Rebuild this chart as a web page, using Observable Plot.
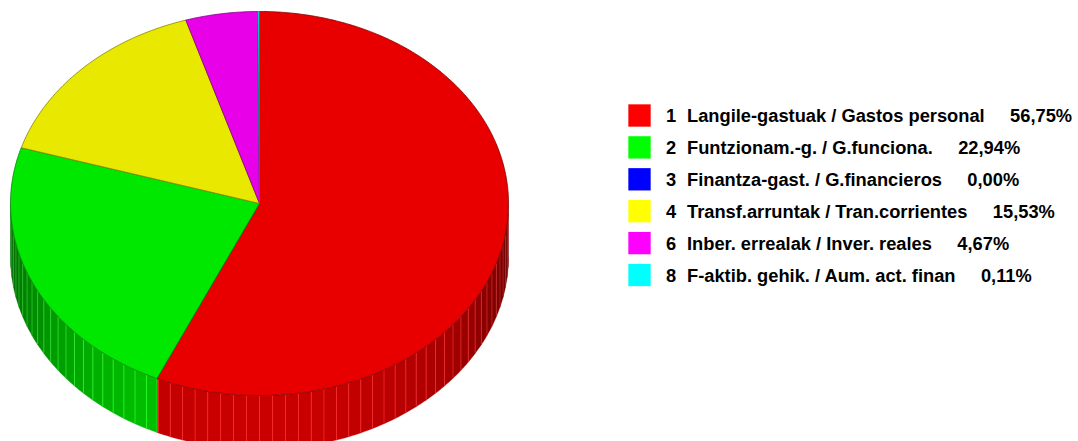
<!DOCTYPE html>
<html>
<head>
<meta charset="utf-8">
<script src="https://cdn.jsdelivr.net/npm/d3@7"></script>
<script src="https://cdn.jsdelivr.net/npm/@observablehq/plot@0.6"></script>
<style>
  html, body { margin: 0; padding: 0; background: #fff; }
  #chart { width: 1078px; height: 441px; overflow: hidden; }
</style>
</head>
<body>
<div id="chart"></div>
<script>
// ---- data ----
const codes = ["1", "2", "3", "4", "6", "8"];
const names = [
  "Langile-gastuak / Gastos personal",
  "Funtzionam.-g. / G.funciona.",
  "Finantza-gast. / G.financieros",
  "Transf.arruntak / Tran.corrientes",
  "Inber. errealak / Inver. reales",
  "F-aktib. gehik. / Aum. act. finan"
];
const shares = [56.75, 22.94, 0.00, 15.53, 4.67, 0.11];
const legendColors = ["#ff0000", "#00ff00", "#0000ff", "#ffff00", "#ff00ff", "#00ffff"];
const pieColors = ["#e80000", "#00e800", "#0000e8", "#e8e800", "#e800e8", "#00e8e8"];

// ---- layout (pixels) ----
const W = 1078, H = 441;
const cx = 259, cy = 203, rx = 249, ry = 192, depth = 54;
const stripDeg = 3;
const FONT = "Liberation Sans, Arial, sans-serif";
const FS = 18.3;

const total = d3.sum(shares);
const rad = d => d * Math.PI / 180;
const P = (a, dz = 0) => [cx + rx * Math.sin(rad(a)), cy - ry * Math.cos(rad(a)) + dz];

// slice angles (degrees, clockwise from 12 o'clock)
let acc = 0;
const slices = shares.map((v, i) => {
  const a0 = acc / total * 360;
  acc += v;
  const a1 = acc / total * 360;
  return {i, a0, a1};
});

// top polygons
const topPts = [];
slices.forEach(s => {
  if (s.a1 - s.a0 <= 0) return;
  const id = "top" + s.i;
  const fill = pieColors[s.i];
  const stroke = d3.color(fill).darker(1.6).formatHex();
  const pts = [[cx, cy]];
  const n = Math.max(2, Math.ceil((s.a1 - s.a0) / 0.5));
  for (let k = 0; k <= n; k++) pts.push(P(s.a0 + (s.a1 - s.a0) * k / n));
  pts.push([cx, cy]);
  pts.forEach(([x, y]) => topPts.push({id, x, y, fill, stroke}));
});

// side strips (front half: 90..270)
const sidePts = [];
const sideLines = [];
slices.forEach(s => {
  const lo = Math.max(s.a0, 90), hi = Math.min(s.a1, 270);
  if (hi <= lo) return;
  const cuts = [lo];
  for (let a = Math.ceil(lo / stripDeg) * stripDeg; a < hi; a += stripDeg) if (a > lo + 1e-6) cuts.push(a);
  cuts.push(hi);
  for (let k = 0; k < cuts.length - 1; k++) {
    const s0 = cuts[k], s1 = cuts[k + 1];
    const mid = (s0 + s1) / 2;
    const f = 0.4 + 0.47 * (-Math.cos(rad(mid)));
    const base = d3.color(pieColors[s.i]);
    const c = d3.rgb(base.r * f, base.g * f, base.b * f);
    const fill = c.formatHex();
    const id = "side" + s.i + "_" + k;
    const pts = [];
    const n = 4;
    for (let j = 0; j <= n; j++) pts.push(P(s0 + (s1 - s0) * j / n));
    for (let j = n; j >= 0; j--) pts.push(P(s0 + (s1 - s0) * j / n, depth));
    pts.forEach(([x, y]) => sidePts.push({id, x, y, fill}));
    if (k > 0 || s0 > 90) {
      const [x, y] = P(s0);
      const lc = d3.rgb(Math.min(255, c.r * 1.25 + 40), Math.min(255, c.g * 1.25 + 40), Math.min(255, c.b * 1.25 + 40));
      sideLines.push({x, y1: y, y2: y + depth, stroke: lc.formatHex()});
    }
  }
});

// legend rows
const pctText = shares.map(v => v.toFixed(2).replace(".", ",") + "%");
const rows = codes.map((c, i) => ({
  code: c,
  label: names[i] + "     " + pctText[i],
  color: legendColors[i],
  row: i
}));
const rowY = r => 115 + r * 31.9;

const plot = Plot.plot({
  width: W,
  height: H,
  margin: 0,
  x: {domain: [0, W], range: [0, W], axis: null},
  y: {domain: [0, H], range: [0, H], axis: null},
  color: {type: "identity"},
  marks: [
    Plot.line(sidePts, {x: "x", y: "y", z: "id", fill: "fill", stroke: "fill", strokeWidth: 0.3, curve: "linear"}),
    Plot.ruleX(sideLines, {x: "x", y1: "y1", y2: "y2", stroke: "stroke", strokeWidth: 1, strokeOpacity: 0.75}),
    Plot.line(topPts, {x: "x", y: "y", z: "id", fill: "fill", stroke: "stroke", strokeWidth: 0.8, curve: "linear"}),
    Plot.dot(rows, {x: () => 639, y: d => rowY(d.row), symbol: "square", r: 12.6, fill: "color", stroke: "none"}),
    Plot.text(rows, {x: () => 665.5, y: d => rowY(d.row) + 0.8, text: "code", textAnchor: "start", fontSize: FS, fontWeight: "bold", fontFamily: FONT, fill: "#000"}),
    Plot.text(rows, {x: () => 686.5, y: d => rowY(d.row) + 0.8, text: "label", textAnchor: "start", fontSize: FS, fontWeight: "bold", fontFamily: FONT, fill: "#000"})
  ]
});
document.getElementById("chart").appendChild(plot);
</script>
</body>
</html>
